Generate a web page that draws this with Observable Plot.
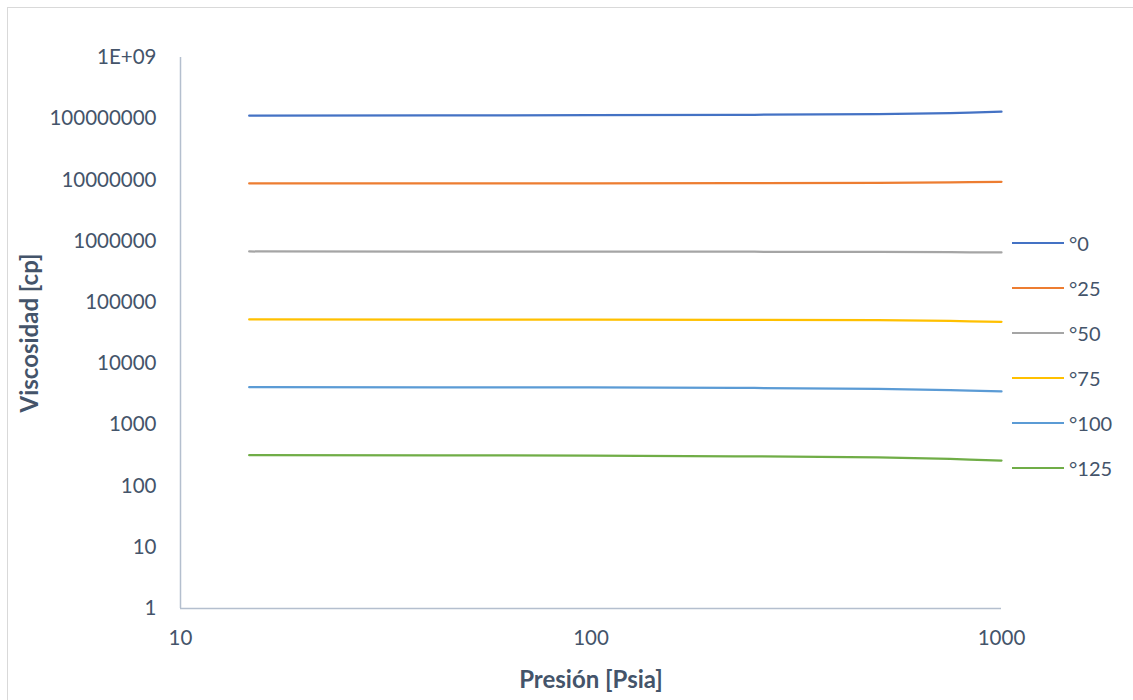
<!DOCTYPE html>
<html>
<head>
<meta charset="utf-8">
<script src="https://cdn.jsdelivr.net/npm/d3@7"></script>
<script src="https://cdn.jsdelivr.net/npm/@observablehq/plot@0.6"></script>
<style>
  html, body { margin: 0; padding: 0; background: #fff; overflow: hidden; }
  #wrap { position: relative; width: 1133px; height: 700px; font-family: Lato, "Open Sans", sans-serif; }
  #border { position: absolute; left: 7px; top: 7px; width: 1140px; height: 710px; border: 1px solid #d9d9d9; box-sizing: border-box; }
  #chart { position: absolute; left: 0; top: 0; }
  #legend { position: absolute; left: 1012px; top: 220px; }
  .item { display: flex; align-items: center; height: 45px; }
  .sw { width: 52px; height: 2px; margin-right: 5px; }
  .lab { font-size: 20px; color: #44546a; line-height: 26px; }
</style>
</head>
<body>
<div id="wrap">
  <div id="border"></div>
  <div id="chart"></div>
  <div id="legend"></div>
</div>
<script>
// Data
const pressures = [14.7, 100, 250, 500, 750, 1000];
const seriesNames = ["°0", "°25", "°50", "°75", "°100", "°125"];
const seriesColors = ["#4472C4", "#ED7D31", "#A5A5A5", "#FFC000", "#5B9BD5", "#70AD47"];
const visc0   = [1.12e8, 1.14e8, 1.16e8, 1.19e8, 1.24e8, 1.30e8];
const visc25  = [8.75e6, 8.80e6, 8.88e6, 8.99e6, 9.15e6, 9.33e6];
const visc50  = [6.78e5, 6.76e5, 6.72e5, 6.66e5, 6.60e5, 6.53e5];
const visc75  = [5.26e4, 5.23e4, 5.18e4, 5.12e4, 4.97e4, 4.82e4];
const visc100 = [4120, 4080, 4000, 3880, 3700, 3510];
const visc125 = [319, 314, 305, 293, 277, 261];
const xTicks = [10, 100, 1000];
const yTicks = [1, 10, 100, 1000, 10000, 100000, 1000000, 10000000, 100000000, 1000000000];
const yTickLabels = ["1", "10", "100", "1000", "10000", "100000", "1000000", "10000000", "100000000", "1E+09"];
const xTitle = "Presión [Psia]";
const yTitle = "Viscosidad [cp]";

const allSeries = [visc0, visc25, visc50, visc75, visc100, visc125];
const data = [];
seriesNames.forEach((s, i) => {
  pressures.forEach((p, j) => data.push({series: s, p, v: allSeries[i][j]}));
});

const textColor = "#44546a";
const axisColor = "#b4bfce";

const plot = Plot.plot({
  width: 1133,
  height: 700,
  marginLeft: 180,
  marginRight: 132,
  marginTop: 57,
  marginBottom: 92,
  style: {fontFamily: "Lato, 'Open Sans', sans-serif", background: "transparent", color: textColor},
  x: {type: "log", domain: [10, 1000]},
  y: {type: "log", domain: [1, 1e9]},
  color: {domain: seriesNames, range: seriesColors},
  marks: [
    Plot.ruleX([10], {stroke: axisColor, strokeWidth: 1.5}),
    Plot.ruleY([1], {stroke: axisColor, strokeWidth: 1.5}),
    Plot.axisX({ticks: xTicks, tickFormat: d => String(d), tickSize: 0, tickPadding: 22, fontSize: 20.5, label: null, color: textColor}),
    Plot.axisY({ticks: yTicks, tickFormat: d => yTickLabels[yTicks.indexOf(d)], tickSize: 0, tickPadding: 24, fontSize: 20.5, label: null, color: textColor}),
    Plot.line(data, {x: "p", y: "v", z: "series", stroke: "series", strokeWidth: 2.25, curve: "catmull-rom"}),
    Plot.text([xTitle], {frameAnchor: "bottom", dy: 72, lineAnchor: "middle", textAnchor: "middle", fontSize: 24, fontWeight: "bold", fill: textColor}),
    Plot.text([yTitle], {frameAnchor: "left", dx: -150, rotate: -90, lineAnchor: "middle", textAnchor: "middle", fontSize: 24, fontWeight: "bold", fill: textColor})
  ]
});
document.getElementById("chart").appendChild(plot);

const legend = document.getElementById("legend");
seriesNames.forEach((s, i) => {
  const it = document.createElement("div");
  it.className = "item";
  it.innerHTML = `<div class="sw" style="background:${seriesColors[i]}"></div><div class="lab">${s}</div>`;
  legend.appendChild(it);
});
</script>
</body>
</html>
